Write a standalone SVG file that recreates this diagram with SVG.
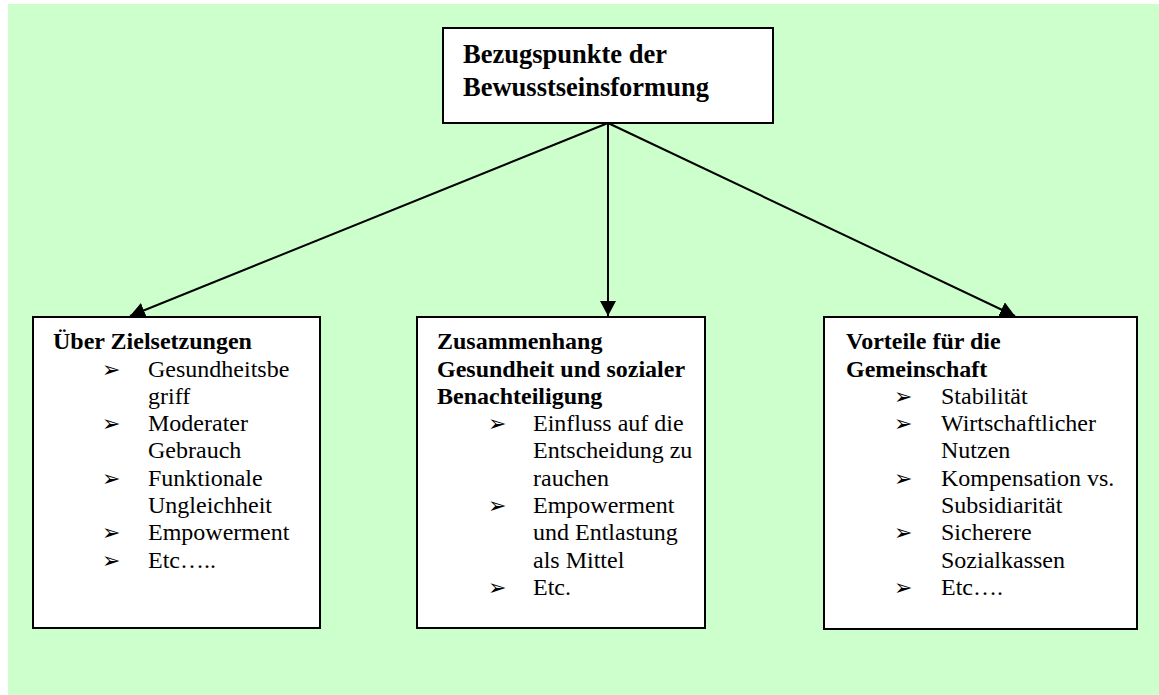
<svg xmlns="http://www.w3.org/2000/svg" width="1159" height="695" viewBox="0 0 1159 695">
<style>
.box{fill:#ffffff;stroke:#000000;stroke-width:2}
.conn{stroke:#000000;stroke-width:2;fill:none;marker-end:url(#ah)}
.t{font-family:"Liberation Serif","Times New Roman",serif;font-size:24px;fill:#000}
.b{font-weight:bold}
.top{font-family:"Liberation Serif","Times New Roman",serif;font-size:26.5px;font-weight:bold;fill:#000}
.bul{font-family:"DejaVu Sans",sans-serif;font-size:22px;fill:#000}
</style>
<defs>
<marker id="ah" viewBox="0 0 15 16" refX="15" refY="8" markerWidth="15" markerHeight="16" orient="auto" markerUnits="userSpaceOnUse">
<path d="M0,0 L15,8 L0,16 z" fill="#000"/>
</marker>
</defs>
<rect x="8" y="4" width="1151" height="691" fill="#CCFFCC"/>
<g id="connectors">
<line class="conn" x1="608" y1="123" x2="130" y2="316"/>
<line class="conn" x1="608" y1="123" x2="608" y2="316"/>
<line class="conn" x1="608" y1="123" x2="1015" y2="316"/>
</g>
<g id="top">
<rect class="box" x="443" y="28" width="330" height="95"/>
<text class="top" x="463" y="63">Bezugspunkte der</text>
<text class="top" x="463" y="96">Bewusstseinsformung</text>
</g>
<g id="left">
<rect class="box" x="33" y="317" width="287" height="311"/>
<text class="t b" x="53" y="349">Über Zielsetzungen</text>
<text class="bul" x="102" y="377">➢</text>
<text class="t" x="148" y="377">Gesundheitsbe</text>
<text class="t" x="148" y="404">griff</text>
<text class="bul" x="102" y="431">➢</text>
<text class="t" x="148" y="431">Moderater</text>
<text class="t" x="148" y="458">Gebrauch</text>
<text class="bul" x="102" y="486">➢</text>
<text class="t" x="148" y="486">Funktionale</text>
<text class="t" x="148" y="513">Ungleichheit</text>
<text class="bul" x="102" y="540">➢</text>
<text class="t" x="148" y="540">Empowerment</text>
<text class="bul" x="102" y="568">➢</text>
<text class="t" x="148" y="568">Etc…..</text>
</g>
<g id="middle">
<rect class="box" x="417" y="317" width="288" height="311"/>
<text class="t b" x="437" y="349">Zusammenhang</text>
<text class="t b" x="437" y="377">Gesundheit und sozialer</text>
<text class="t b" x="437" y="404">Benachteiligung</text>
<text class="bul" x="488" y="431">➢</text>
<text class="t" x="533" y="431">Einfluss auf die</text>
<text class="t" x="533" y="458">Entscheidung zu</text>
<text class="t" x="533" y="486">rauchen</text>
<text class="bul" x="488" y="513">➢</text>
<text class="t" x="533" y="513">Empowerment</text>
<text class="t" x="533" y="540">und Entlastung</text>
<text class="t" x="533" y="568">als Mittel</text>
<text class="bul" x="488" y="595">➢</text>
<text class="t" x="533" y="595">Etc.</text>
</g>
<g id="right">
<rect class="box" x="824" y="317" width="313" height="312"/>
<text class="t b" x="846" y="349">Vorteile für die</text>
<text class="t b" x="846" y="377">Gemeinschaft</text>
<text class="bul" x="894" y="404">➢</text>
<text class="t" x="941" y="404">Stabilität</text>
<text class="bul" x="894" y="431">➢</text>
<text class="t" x="941" y="431">Wirtschaftlicher</text>
<text class="t" x="941" y="458">Nutzen</text>
<text class="bul" x="894" y="486">➢</text>
<text class="t" x="941" y="486">Kompensation vs.</text>
<text class="t" x="941" y="513">Subsidiarität</text>
<text class="bul" x="894" y="540">➢</text>
<text class="t" x="941" y="540">Sicherere</text>
<text class="t" x="941" y="568">Sozialkassen</text>
<text class="bul" x="894" y="595">➢</text>
<text class="t" x="941" y="595">Etc….</text>
</g>
</svg>
